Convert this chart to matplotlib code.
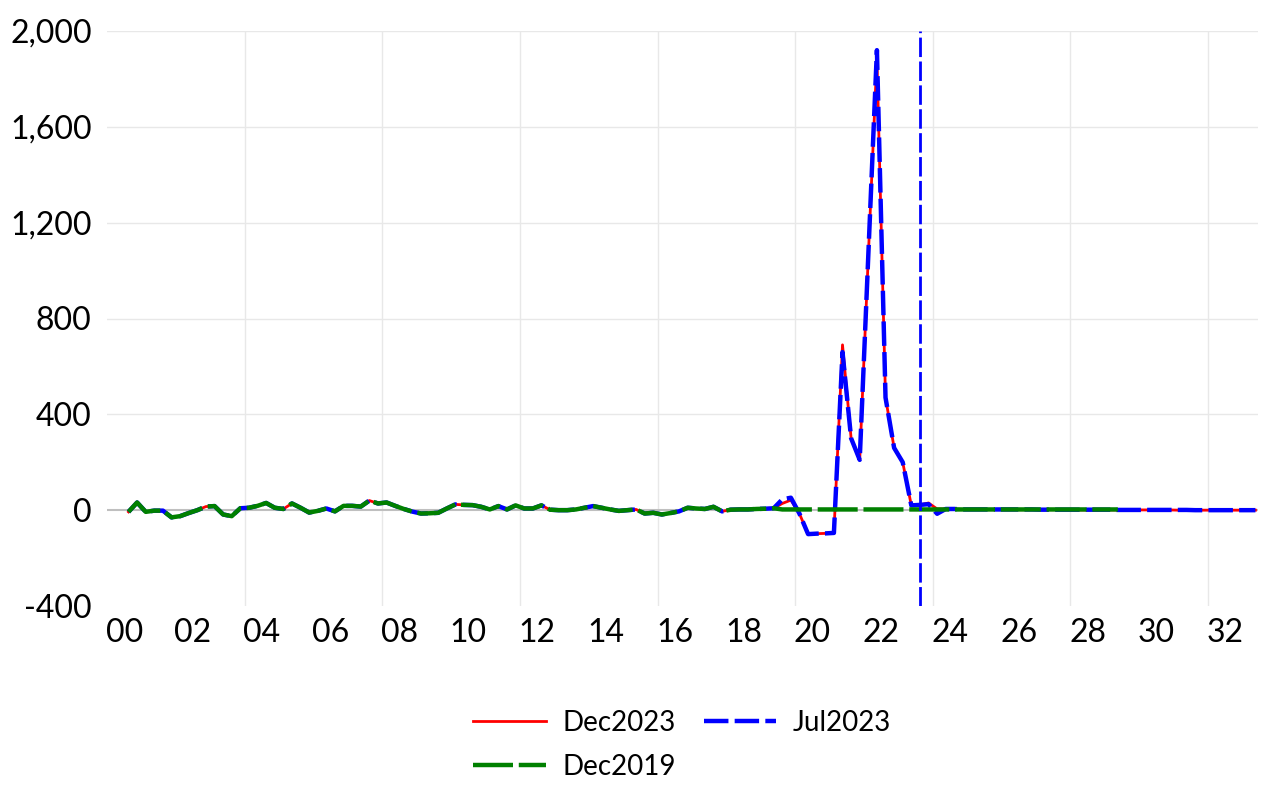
import numpy as np
import matplotlib.pyplot as plt

plt.rcParams['font.family'] = ['Lato', 'DejaVu Sans']

# quarterly observations, first one is 2000Q3 (year offset 0.625 = mid Q3)
start = 0.625
step = 0.25

# common history shared by all three vintages (2000Q3 .. 2019Q2)
history = [-7, 32, -7, -2, -2, -30, -25, -12, 0, 15,
           17, -18, -25, 8, 10, 18, 30, 10, 5, 28,
           10, -10, -3, 7, -5, 18, 18, 15, 40, 28,
           32, 18, 5, -6, -14, -13, -11, 7, 24, 22,
           21, 14, 3, 17, 3, 20, 7, 7, 20, 2,
           0, 0, 3, 10, 17, 10, 3, -3, 0, 3,
           -14, -11, -18, -12, -5, 10, 7, 5, 14, -5,
           2, 3, 3, 5, 6, 8]

# vintage-specific values from 2019Q3 onwards
dec2023_tail = [28, 42, -15, -100, -98, -97, -95, 690, 300, 210,
                1060, 1890, 470, 260, 200, 20, 22, 30, 5, 5,
                5, 3, 3, 3, 2, 2, 2, 2, 2, 2,
                2, 2, 2, 1, 1, 1, 1, 1, 1, 1,
                1, 1, 1, 1, 1, 1, 0, 0, 0, 0,
                0, 0, 0, 0, 0, 0]
jul2023_tail = [45, 52, -15, -100, -98, -97, -95, 660, 300, 210,
                1060, 1920, 470, 260, 200, 20, 22, 25, -15, 5,
                5, 3, 3, 3, 3, 3, 3, 3, 3, 3,
                2, 2, 2, 2, 2, 2, 2, 2, 2, 1,
                1, 1, 1, 1, 1, 1, 1, 1, 0, 0,
                0, 0, 0, 0, 0, 0]
dec2019_tail = [3, 3, 3, 3, 3, 3, 3, 3, 3, 3,
                3, 3, 3, 3, 3, 3, 3, 3, 3, 3,
                3, 3, 3, 3, 3, 3, 3, 3, 3, 3,
                3, 3, 3, 3, 3, 3, 3, 3, 3, 3]

vline_year = 23.625
xtick_labels = ['00', '02', '04', '06', '08', '10', '12', '14', '16',
                '18', '20', '22', '24', '26', '28', '30', '32']

dec2023 = np.array(history + dec2023_tail, dtype=float)
jul2023 = np.array(history + jul2023_tail, dtype=float)
dec2019 = np.array(history + dec2019_tail, dtype=float)


def quarters(n):
    return start + step * np.arange(n)


fig = plt.figure(figsize=(12.61, 7.91), dpi=100)
ax = fig.add_axes([107 / 1261, 1 - 606 / 791, 1151 / 1261, 575 / 791])

l1, = ax.plot(quarters(len(dec2023)), dec2023, color='#ff0000', lw=2,
              label='Dec2023', zorder=3)
l2, = ax.plot(quarters(len(jul2023)), jul2023, color='#0000ff', lw=3.2,
              dashes=(5.5, 1.4), label='Jul2023', zorder=4)
l3, = ax.plot(quarters(len(dec2019)), dec2019, color='#008000', lw=3.2,
              dashes=(9, 1.3), label='Dec2019', zorder=5)

ax.axvline(vline_year, color='#0000ff', lw=2, dashes=(7, 1.6), zorder=6)

ax.set_xlim(0, 33.45)
ax.set_ylim(-400, 2000)
ax.set_yticks(np.arange(-400, 2001, 400))
ax.yaxis.set_major_formatter(plt.FuncFormatter(lambda v, p: f'{int(v):,}'))
ax.set_xticks(np.arange(0.5, 33, 2))
ax.set_xticklabels(xtick_labels)
ax.tick_params(axis='both', length=0, labelsize=23)
ax.tick_params(axis='y', pad=11)
ax.tick_params(axis='x', pad=9)

# grid: horizontal every 400, vertical every 4 years
for yv in np.arange(400, 2001, 400):
    ax.axhline(yv, color='#e8e8e8', lw=1, zorder=0)
for xv in np.arange(4, 33, 4):
    ax.axvline(xv, color='#e8e8e8', lw=1, zorder=0)
ax.axhline(0, color='#bfbfbf', lw=1.5, zorder=1)

for s in ax.spines.values():
    s.set_visible(False)

fig.legend(handles=[l1, l3, l2], ncol=2, loc='center',
           bbox_to_anchor=(682 / 1261, 1 - 745 / 791), frameon=False,
           fontsize=20, handlelength=2.6, handletextpad=0.6,
           columnspacing=1.0, labelspacing=0.65)

fig.savefig('out.png', dpi=100)
